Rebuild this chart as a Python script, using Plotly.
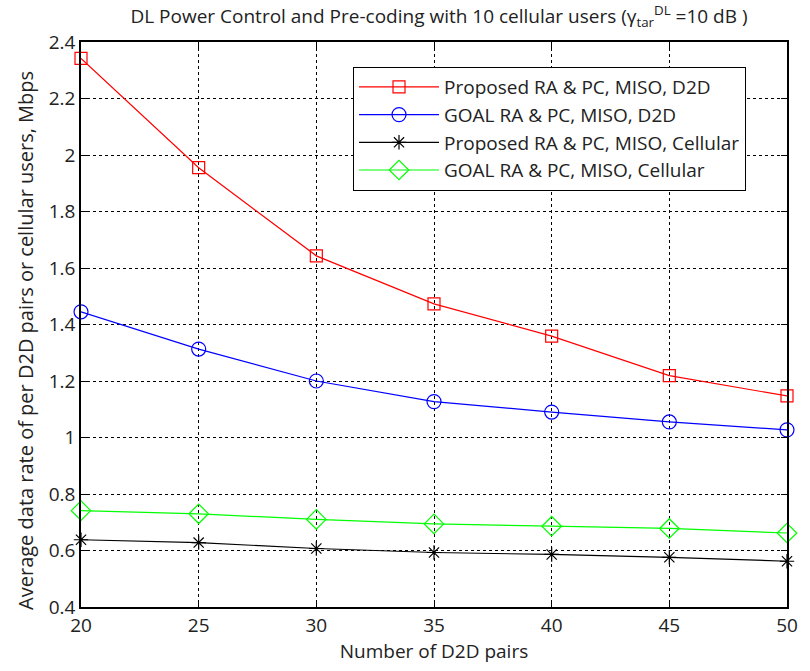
import plotly.graph_objects as go

x_pairs = [20, 25, 30, 35, 40, 45, 50]
proposed_d2d = [2.342, 1.955, 1.643, 1.473, 1.359, 1.219, 1.147]
goal_d2d = [1.445, 1.313, 1.200, 1.127, 1.090, 1.055, 1.027]
proposed_cell = [0.638, 0.628, 0.607, 0.593, 0.586, 0.576, 0.562]
goal_cell = [0.741, 0.730, 0.710, 0.694, 0.686, 0.678, 0.662]

names = ["Proposed RA & PC, MISO, D2D", "GOAL RA & PC, MISO, D2D",
         "Proposed RA & PC, MISO, Cellular", "GOAL RA & PC, MISO, Cellular"]
x_ticks = [20, 25, 30, 35, 40, 45, 50]
y_ticks = [0.4, 0.6, 0.8, 1.0, 1.2, 1.4, 1.6, 1.8, 2.0, 2.2, 2.4]
y_tick_text = ["0.4", "0.6", "0.8", "1", "1.2", "1.4", "1.6", "1.8", "2", "2.2", "2.4"]

FONT = "Open Sans"
TXT = "#222222"
fig = go.Figure()
styles = [
    (proposed_d2d, "#ff0000", "square-open", 12),
    (goal_d2d, "#0000ff", "circle-open", 14),
    (proposed_cell, "#000000", "asterisk-open", 12),
    (goal_cell, "#00ff00", "diamond-open", 15),
]
for (vals, col, sym, sz), nm in zip(styles, names):
    fig.add_trace(go.Scatter(
        x=x_pairs, y=vals, mode="lines+markers", name=nm,
        line=dict(color=col, width=1.2),
        marker=dict(symbol=sym, size=sz, color=col, line=dict(color=col, width=1.2)),
        cliponaxis=False,
    ))

axis_common = dict(
    showline=True, linecolor="black", linewidth=1.5, mirror="ticks",
    ticks="inside", ticklen=6, tickcolor="black",
    showgrid=True, gridcolor="black", griddash="dot", gridwidth=1,
    zeroline=False, tickfont=dict(family=FONT, size=19, color=TXT),
)
fig.update_xaxes(range=[20, 50], tickvals=x_ticks, **axis_common,
                 title=dict(text="Number of D2D pairs", font=dict(family=FONT, size=19, color=TXT), standoff=2))
fig.update_yaxes(range=[0.4, 2.4], tickvals=y_ticks, ticktext=y_tick_text, **axis_common)

fig.add_annotation(text="Average data rate of per D2D pairs or cellular users, Mbps",
                   xref="paper", yref="paper", x=-0.078, y=0.4726,
                   xanchor="center", yanchor="middle", textangle=-90, showarrow=False,
                   font=dict(family=FONT, size=20, color=TXT))

fig.update_layout(
    width=810, height=671,
    margin=dict(l=81, r=13, t=42, b=64),
    plot_bgcolor="white", paper_bgcolor="white",
    title=dict(text="DL Power Control and Pre-coding with 10 cellular users (γ<sub>tar</sub><sup>DL</sup> =10 dB )",
               font=dict(family=FONT, size=19, color=TXT), x=0.542, xanchor="center", y=0.975, yanchor="middle"),
    legend=dict(x=0.385, y=0.956, xanchor="left", yanchor="top",
                bordercolor="black", borderwidth=1.2, bgcolor="white",
                font=dict(family=FONT, size=19, color=TXT),
                itemwidth=80, tracegroupgap=0),
    showlegend=True,
)
fig.write_html("out.html")
